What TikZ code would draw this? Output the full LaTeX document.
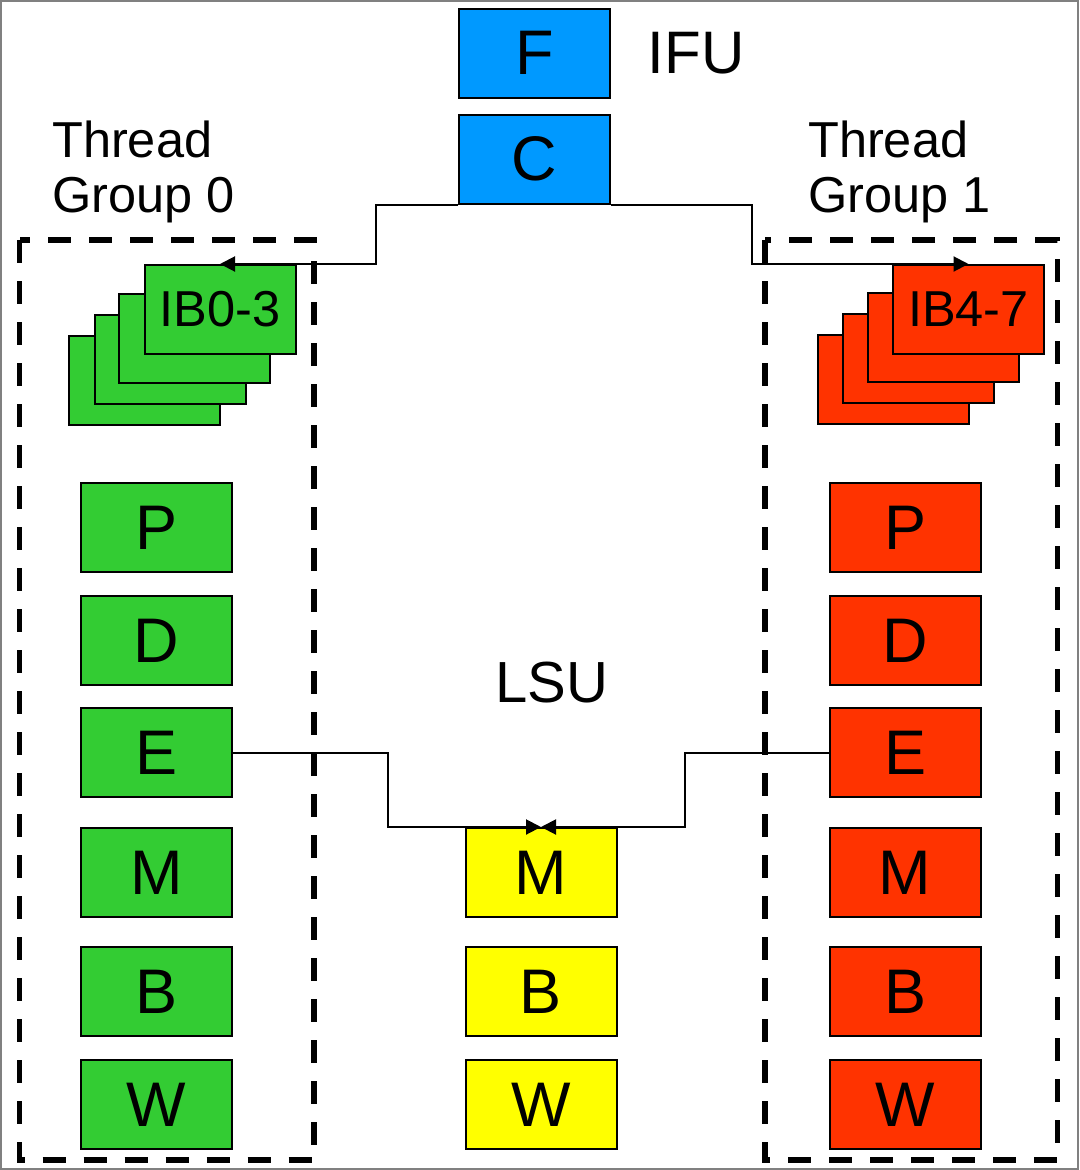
\documentclass[tikz,border=0pt]{standalone}
\usepackage{fontspec}
\setmainfont{Liberation Sans}
\usepackage{tikz}
\usetikzlibrary{arrows.meta}
\definecolor{ifublue}{HTML}{0099FF}
\definecolor{tggreen}{HTML}{33CC33}
\definecolor{tgred}{HTML}{FF3300}
\definecolor{lsuyellow}{HTML}{FFFF00}
\newcommand{\stagefont}{\fontsize{63}{63}\selectfont}

\begin{document}
\begin{tikzpicture}[x=1pt,y=-1pt,
    stage/.style={draw=black,line width=2pt,minimum width=151pt,minimum height=89pt,inner sep=0pt,font=\stagefont},
    ibuf/.style={stage,font=\fontsize{50.5}{50.5}\selectfont},
    group/.style={draw=black,line width=5.5pt,dash pattern=on 23pt off 18pt},
    link/.style={draw=black,line width=2pt,-{Triangle[length=15pt,width=15pt]}},
    lbl/.style={inner sep=0pt,font=\fontsize{50.5}{55}\selectfont,align=left}]
        \useasboundingbox (0,0) rectangle (1079,1170);
        \draw[gray,line width=2pt] (1,1) rectangle (1078,1169);
        % IFU
        \node[stage,fill=ifublue] (F) at (534.5,53) {F};
        \node[stage,fill=ifublue] (C) at (534.5,159) {C};
        \node[inner sep=0pt,font=\fontsize{60}{60}\selectfont] (ifu) at (696,53) {IFU};
        % thread groups
        \draw[group] (19.5,240) rectangle (314,1160);
        \draw[group] (765,240) rectangle (1057.5,1160);
        \node[lbl,anchor=base west] (tg0) at (52,212) {Thread\\Group 0};
        \node[lbl,anchor=base west] (tg1) at (808,212) {Thread\\Group 1};
        % instruction buffers
        \node[ibuf,fill=tggreen] (ib0d) at (144.5,380) {};
        \node[ibuf,fill=tggreen] (ib0c) at (170,359) {};
        \node[ibuf,fill=tggreen] (ib0b) at (194.5,338) {};
        \node[ibuf,fill=tggreen] (IB0) at (220,309.5) {IB0-3};
        \node[ibuf,fill=tgred] (ib4d) at (893,379.5) {};
        \node[ibuf,fill=tgred] (ib4c) at (918.5,358.5) {};
        \node[ibuf,fill=tgred] (ib4b) at (943.5,337.5) {};
        \node[ibuf,fill=tgred] (IB4) at (968.5,309.5) {IB4-7};
        % group 0 pipe
        \node[stage,fill=tggreen] (PL) at (156.5,527.5) {P};
        \node[stage,fill=tggreen] (DL) at (156.5,640.5) {D};
        \node[stage,fill=tggreen] (EL) at (156.5,752.5) {E};
        \node[stage,fill=tggreen] (ML) at (156.5,872.5) {M};
        \node[stage,fill=tggreen] (BL) at (156.5,991.5) {B};
        \node[stage,fill=tggreen] (WL) at (156.5,1104.5) {W};
        % group 1 pipe
        \node[stage,fill=tgred] (PR) at (905,527.5) {P};
        \node[stage,fill=tgred] (DR) at (905,640.5) {D};
        \node[stage,fill=tgred] (ER) at (905,752.5) {E};
        \node[stage,fill=tgred] (MR) at (905,872.5) {M};
        \node[stage,fill=tgred] (BR) at (905,991.5) {B};
        \node[stage,fill=tgred] (WR) at (905,1104.5) {W};
        % LSU
        \node[inner sep=0pt,font=\fontsize{58}{58}\selectfont] (lsu) at (552,683) {LSU};
        \node[stage,fill=lsuyellow] (LM) at (541,872.5) {M};
        \node[stage,fill=lsuyellow] (LB) at (541,991.5) {B};
        \node[stage,fill=lsuyellow] (LW) at (541,1104.5) {W};
        % links
        \draw[link] (C.south west) -- ++(-82,0) |- (IB0.north);
        \draw[link] (C.south east) -- ++(141,0) |- (IB4.north);
        \draw[link] (EL.east) -- ++(155,0) |- (LM.north);
        \draw[link] (ER.west) -- ++(-144,0) |- (LM.north);
    \end{tikzpicture}
\end{document}
